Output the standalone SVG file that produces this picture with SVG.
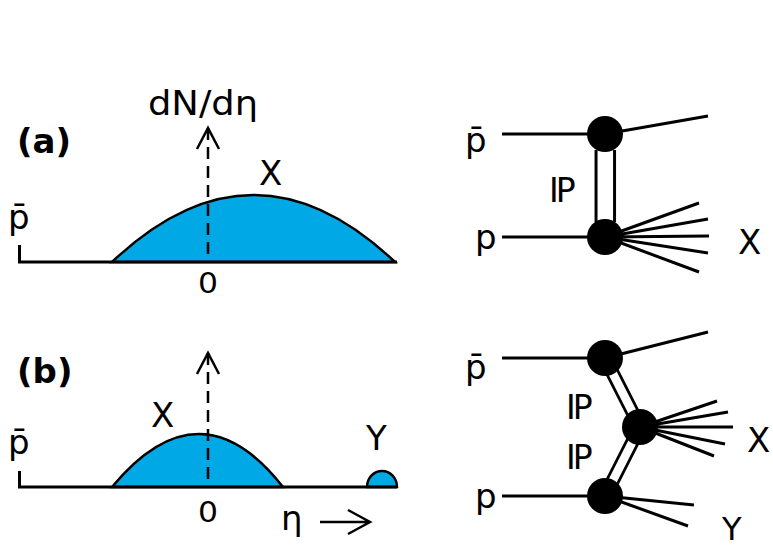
<svg xmlns="http://www.w3.org/2000/svg" width="773" height="548" viewBox="0 0 773 548">
<style>
text{font-family:"DejaVu Sans","Liberation Sans",sans-serif;fill:#000}
.l{font-size:34px}
.b{font-size:34px;font-weight:bold}
.ip{font-size:33px;letter-spacing:-3px}
.zero{font-size:28px}
.ln{stroke:#000;stroke-width:3;fill:none}
.th{stroke:#000;stroke-width:2.5;fill:none}
.dash{stroke:#000;stroke-width:2.5;stroke-dasharray:12 7;fill:none}
.dome{fill:#00A9E6;stroke:#000;stroke-width:2.5}
.vtx{fill:#000}
.pb{stroke:#000;fill:none}
.pw{stroke:#fff;fill:none}
</style>
<rect width="773" height="548" fill="#fff"/>

<!-- Panel (a) distribution -->
<g id="plot-a">
  <text class="b" x="17" y="153">(a)</text>
  <path class="dome" d="M112,262 Q253.5,128 395,262 Z"/>
  <path class="ln" d="M19.5,245 V262 H397"/>
  <path class="dash" d="M208,128 V262"/>
  <path class="th" d="M197,149 L208,128 L219,149"/>
  <text class="l" x="148" y="115" textLength="110" lengthAdjust="spacingAndGlyphs">dN/dη</text>
  <text class="l" x="259" y="185" font-size="36">X</text>
  <text class="l" x="8" y="229">p&#x304;</text>
  <text class="zero" x="198" y="293" textLength="20" lengthAdjust="spacingAndGlyphs">0</text>
</g>

<!-- Panel (b) distribution -->
<g id="plot-b">
  <text class="b" x="17" y="383">(b)</text>
  <path class="dome" d="M112,487 Q200,381 283,487 Z"/>
  <path class="dome" d="M367,487 A15,16 0 0 1 397,487 Z"/>
  <path class="ln" d="M19.5,471 V487 H397"/>
  <path class="dash" d="M208,353 V487"/>
  <path class="th" d="M197,374 L208,353 L219,374"/>
  <text class="l" x="151" y="427">X</text>
  <text class="l" x="366" y="450">Y</text>
  <text class="l" x="8" y="454">p&#x304;</text>
  <text class="zero" x="198" y="522" textLength="20" lengthAdjust="spacingAndGlyphs">0</text>
  <text class="l" x="281" y="530">η</text>
  <path class="th" d="M320,522 H369 M348,510 L370,522 L348,534"/>
</g>

<!-- Connectors -->
<g id="connectors">
  <!-- diagram a -->
  <path class="ln" d="M502,134 H605 M605,134 L708,116 M502,237 H605"/>
  <path class="pb" stroke-width="21.5" d="M605.3,150 V222"/>
  <path class="pw" stroke-width="15.5" d="M605.3,140 V230"/>
  <path class="ln" d="M605,237 L699,203 M605,237 L708,219 M605,237 L709,236 M605,237 L708,253 M605,237 L699,272"/>
  <!-- diagram b -->
  <path class="ln" d="M502,358 H605 M605,358 L708,332 M502,496 H605"/>
  <path class="pb" stroke-width="14" d="M605,358 L640,427 L605,496"/>
  <path class="pw" stroke-width="8.5" d="M605,358 L640,427 L605,496"/>
  <path class="ln" d="M640,427 L717,401 M640,427 L728,412 M640,427 L733,427 M640,427 L725,444 M640,427 L714,456"/>
  <path class="ln" d="M605,496 L694,505 M605,496 L688,526"/>
</g>

<!-- Vertices and labels, diagram a -->
<g id="a-top-vertex"><circle class="vtx" cx="605" cy="134" r="18"/></g>
<g id="a-bottom-vertex"><circle class="vtx" cx="605" cy="237" r="18"/></g>
<g id="a-pbar"><text class="l" x="465" y="152">p&#x304;</text></g>
<g id="a-p"><text class="l" x="475" y="249">p</text></g>
<g id="a-pomeron"><text class="ip" x="549" y="202">IP</text></g>
<g id="a-X"><text class="l" x="738" y="254" font-size="36">X</text></g>

<!-- Vertices and labels, diagram b -->
<g id="b-top-vertex"><circle class="vtx" cx="605" cy="358" r="18"/></g>
<g id="b-middle-vertex"><circle class="vtx" cx="640" cy="427" r="18"/></g>
<g id="b-bottom-vertex"><circle class="vtx" cx="605" cy="496" r="18"/></g>
<g id="b-pbar"><text class="l" x="465" y="379">p&#x304;</text></g>
<g id="b-p"><text class="l" x="475" y="508">p</text></g>
<g id="b-pomeron-1"><text class="ip" x="566" y="419">IP</text></g>
<g id="b-pomeron-2"><text class="ip" x="566" y="469">IP</text></g>
<g id="b-X"><text class="l" x="747" y="452">X</text></g>
<g id="b-Y"><text class="l" x="722" y="540" style="font-size:32px">Y</text></g>
</svg>
